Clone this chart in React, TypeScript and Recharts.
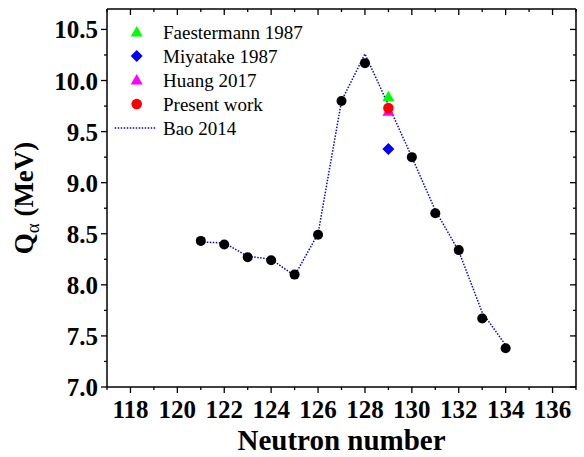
import { ComposedChart, XAxis, YAxis, Scatter, Line, Legend } from 'recharts';

const FONT = '"Liberation Serif", "Times New Roman", serif';

// neutron numbers, Q-alpha in MeV
const KNOWN_N = [121, 122, 123, 124, 125, 126, 127, 128, 130, 131, 132, 133, 134];
const KNOWN_Q = [8.43, 8.395, 8.27, 8.24, 8.1, 8.49, 9.8, 10.17, 9.25, 8.7, 8.34, 7.67, 7.38];

const BAO_N = [121, 122, 123, 124, 125, 126, 127, 128, 129, 130, 131, 132, 133, 134];
const BAO_Q = [8.42, 8.41, 8.28, 8.25, 8.09, 8.5, 9.8, 10.26, 9.76, 9.25, 8.73, 8.33, 7.73, 7.41];

const POINT_N = [129];
const FAESTERMANN_Q = [9.84];
const MIYATAKE_Q = [9.33];
const HUANG_Q = [9.7];
const PRESENT_Q = [9.73];

const X_TICKS = [117, 118, 119, 120, 121, 122, 123, 124, 125, 126, 127, 128, 129, 130, 131, 132, 133, 134, 135, 136, 137];
const Y_TICKS = [7, 7.25, 7.5, 7.75, 8, 8.25, 8.5, 8.75, 9, 9.25, 9.5, 9.75, 10, 10.25, 10.5];

const LEGEND_ORDER = ['Faestermann 1987', 'Miyatake 1987', 'Huang 2017', 'Present work', 'Bao 2014'];

const pairs = (xs: number[], ys: number[]) => xs.map((x, i) => ({ x, y: ys[i] }));

const knownData = pairs(KNOWN_N, KNOWN_Q);
const baoData = pairs(BAO_N, BAO_Q);
const faesData = pairs(POINT_N, FAESTERMANN_Q);
const miyaData = pairs(POINT_N, MIYATAKE_Q);
const huangData = pairs(POINT_N, HUANG_Q);
const presentData = pairs(POINT_N, PRESENT_Q);

const circle = (fill: string, r: number) => (p: any) => <circle cx={p.cx} cy={p.cy} r={r} fill={fill} />;
const triangle = (fill: string) => (p: any) => (
  <polygon points={`${p.cx},${p.cy - 6} ${p.cx - 6},${p.cy + 4.5} ${p.cx + 6},${p.cy + 4.5}`} fill={fill} />
);
const diamond = (fill: string) => (p: any) => (
  <polygon points={`${p.cx},${p.cy - 6} ${p.cx + 6},${p.cy} ${p.cx},${p.cy + 6} ${p.cx - 6},${p.cy}`} fill={fill} />
);
const nothing = () => <g />;

const isMajorY = (v: number) => Math.abs(v * 2 - Math.round(v * 2)) < 1e-6;

function BottomTick({ x, y, payload }: any) {
  const major = payload.value % 2 === 0;
  return (
    <g>
      <line x1={x} x2={x} y1={y} y2={y + (major ? 6 : 3)} stroke="#000" strokeWidth={1.3} />
      {major && (
        <text x={x} y={y + 31} textAnchor="middle" fontFamily={FONT} fontWeight="bold" fontSize={25} fill="#000">
          {payload.value}
        </text>
      )}
    </g>
  );
}

function TopTick({ x, y, payload }: any) {
  const major = payload.value % 2 === 0;
  return <line x1={x} x2={x} y1={y} y2={y + (major ? 6 : 3)} stroke="#000" strokeWidth={1.3} />;
}

function LeftTick({ x, y, payload }: any) {
  const major = isMajorY(payload.value);
  return (
    <g>
      <line x1={x - (major ? 6 : 3)} x2={x} y1={y} y2={y} stroke="#000" strokeWidth={1.3} />
      {major && (
        <text x={x - 9} y={y + 9} textAnchor="end" fontFamily={FONT} fontWeight="bold" fontSize={25} fill="#000">
          {payload.value.toFixed(1)}
        </text>
      )}
    </g>
  );
}

function RightTick({ x, y, payload }: any) {
  const major = isMajorY(payload.value);
  return <line x1={x - (major ? 6 : 3)} x2={x} y1={y} y2={y} stroke="#000" strokeWidth={1.3} />;
}

function XTitle({ viewBox }: any) {
  return (
    <text x={viewBox.x + viewBox.width / 2} y={viewBox.y + 63} textAnchor="middle" fontFamily={FONT} fontWeight="bold" fontSize={29} fill="#000">
      Neutron number
    </text>
  );
}

function YTitle({ viewBox }: any) {
  const cy = viewBox.y + viewBox.height / 2;
  return (
    <text transform={`translate(33, ${cy}) rotate(-90)`} textAnchor="middle" fontFamily={FONT} fontWeight="bold" fontSize={27} fill="#000">
      Q<tspan fontSize={19} fontWeight="normal" dy={6}>α</tspan>
      <tspan dy={-6}> (MeV)</tspan>
    </text>
  );
}

const LEGEND_ICON: Record<string, (cx: number, cy: number) => JSX.Element> = {
  'Faestermann 1987': (cx, cy) => triangle('#00ff00')({ cx, cy }),
  'Miyatake 1987': (cx, cy) => diamond('#0000ff')({ cx, cy }),
  'Huang 2017': (cx, cy) => triangle('#ff00ff')({ cx, cy }),
  'Present work': (cx, cy) => circle('#ff0000', 5.3)({ cx, cy }),
  'Bao 2014': (cx, cy) => (
    <line x1={cx - 22} x2={cx + 20} y1={cy} y2={cy} stroke="#0000ff" strokeWidth={1.5} strokeDasharray="1.5 1.5" />
  ),
};

function LegendBox({ payload }: any) {
  const names: string[] = (payload || []).map((p: any) => p.value);
  const items = LEGEND_ORDER.filter((n) => names.includes(n));
  return (
    <svg width={230} height={126} style={{ display: 'block' }}>
      {items.map((name, i) => (
        <g key={name}>
          {LEGEND_ICON[name](28.7, 12 + i * 24)}
          <text x={55} y={12 + i * 24 + 6.5} fontFamily={FONT} fontSize={19} fill="#000">
            {name}
          </text>
        </g>
      ))}
    </svg>
  );
}

export default function App() {
  return (
    <div style={{ position: 'absolute', left: 0, top: 0, background: '#fff' }}>
      <ComposedChart width={584} height={457} margin={{ top: 8, right: 7, bottom: 0, left: 0 }}>
        <XAxis
          xAxisId="b"
          dataKey="x"
          type="number"
          domain={[117, 137]}
          ticks={X_TICKS}
          interval={0}
          height={70}
          tickSize={0}
          tickMargin={0}
          tick={<BottomTick />}
          axisLine={{ stroke: '#000', strokeWidth: 1.5 }}
          label={<XTitle />}
        />
        <XAxis
          xAxisId="t"
          dataKey="x"
          orientation="top"
          type="number"
          domain={[117, 137]}
          ticks={X_TICKS}
          interval={0}
          height={1}
          tickSize={0}
          tickMargin={0}
          tick={<TopTick />}
          axisLine={{ stroke: '#000', strokeWidth: 1.5 }}
        />
        <YAxis
          yAxisId="l"
          type="number"
          domain={[7, 10.7]}
          ticks={Y_TICKS}
          interval={0}
          width={107}
          tickSize={0}
          tickMargin={0}
          tick={<LeftTick />}
          axisLine={{ stroke: '#000', strokeWidth: 1.5 }}
          label={<YTitle />}
        />
        <YAxis
          yAxisId="r"
          orientation="right"
          type="number"
          domain={[7, 10.7]}
          ticks={Y_TICKS}
          interval={0}
          width={1}
          tickSize={0}
          tickMargin={0}
          tick={<RightTick />}
          axisLine={{ stroke: '#000', strokeWidth: 1.5 }}
        />
        <Legend
          layout="vertical"
          align="center"
          verticalAlign="middle"
          content={<LegendBox />}
          wrapperStyle={{ left: 108, top: 20, width: 230, height: 126 }}
        />
        {/* invisible series so the top and right frame axes get drawn */}
        <Scatter name="frame" data={knownData} dataKey="y" xAxisId="t" yAxisId="r" legendType="none" shape={nothing} isAnimationActive={false} />
        <Scatter name="Known" data={knownData} dataKey="y" xAxisId="b" yAxisId="l" legendType="none" shape={circle('#000', 5)} isAnimationActive={false} />
        <Line
          name="Bao 2014"
          data={baoData}
          dataKey="y"
          xAxisId="b"
          yAxisId="l"
          type="linear"
          stroke="#0000ff"
          strokeWidth={1.5}
          strokeDasharray="1.5 1.5"
          dot={false}
          activeDot={false}
          isAnimationActive={false}
        />
        <Scatter name="Faestermann 1987" data={faesData} dataKey="y" xAxisId="b" yAxisId="l" shape={triangle('#00ff00')} isAnimationActive={false} />
        <Scatter name="Miyatake 1987" data={miyaData} dataKey="y" xAxisId="b" yAxisId="l" shape={diamond('#0000ff')} isAnimationActive={false} />
        <Scatter name="Huang 2017" data={huangData} dataKey="y" xAxisId="b" yAxisId="l" shape={triangle('#ff00ff')} isAnimationActive={false} />
        <Scatter name="Present work" data={presentData} dataKey="y" xAxisId="b" yAxisId="l" shape={circle('#ff0000', 5.3)} isAnimationActive={false} />
      </ComposedChart>
    </div>
  );
}
